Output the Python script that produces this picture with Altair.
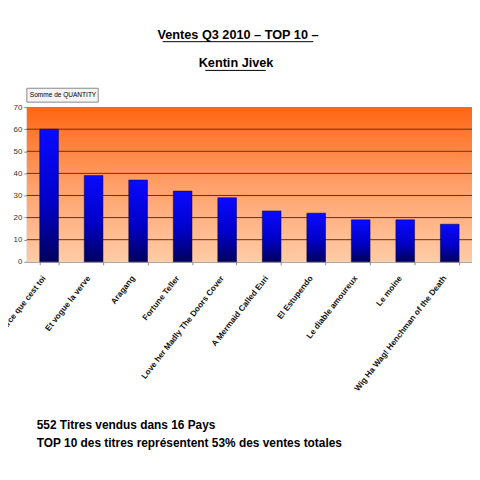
import altair as alt
import pandas as pd

titles = ["Parce que cest toi", "Et vogue la verve", "Aragang", "Fortune Teller",
          "Love her Madly The Doors Cover", "A Mermaid Called Euri", "El Estupendo",
          "Le diable amoureux", "Le moine", "Wig Ha Wag! Henchman of the Death"]
quantities = [60, 39, 37, 32, 29, 23, 22, 19, 19, 17]
y_ticks = [0, 10, 20, 30, 40, 50, 60, 70]
grid_values = [10, 20, 30, 40, 50, 60]

title_1 = "Ventes Q3 2010 \u2013 TOP 10 \u2013"
title_2 = "Kentin Jivek"
note_1 = "552 Titres vendus dans 16 Pays"
note_2 = "TOP 10 des titres repr\u00e9sentent 53% des ventes totales"
legend_label = "Somme de QUANTITY"

df = pd.DataFrame({"title": titles, "q": quantities})
grid_df = pd.DataFrame({"g": grid_values})
one = pd.DataFrame({"k": [0]})

W, H = 449, 156
FONT = "Liberation Sans"

bg_grad = alt.LinearGradient(
    gradient="linear", x1=0, y1=0, x2=0, y2=1,
    stops=[alt.GradientStop(color="#FF6614", offset=0),
           alt.GradientStop(color="#FF9F6A", offset=0.5),
           alt.GradientStop(color="#FFCCA6", offset=1)])

bar_grad = alt.LinearGradient(
    gradient="linear", x1=0, y1=0, x2=0, y2=1,
    stops=[alt.GradientStop(color="#0A0AFF", offset=0),
           alt.GradientStop(color="#0000C8", offset=0.55),
           alt.GradientStop(color="#00005E", offset=1)])

yscale = alt.Scale(domain=[0, 70], nice=False)
yaxis = alt.Axis(values=y_ticks, labelFont=FONT, labelFontSize=8, labelColor="#333",
                 tickSize=3, tickColor="#888", domainColor="#888",
                 grid=False, labelPadding=2, title=None)

background = alt.Chart(one).mark_rect(fill=bg_grad).encode(
    x=alt.value(0), x2=alt.value(W), y=alt.value(0), y2=alt.value(H))

grid = alt.Chart(grid_df).mark_rule(color="#6B3010", strokeWidth=1).encode(
    y=alt.Y("g:Q", scale=yscale, axis=yaxis, title=None), x=alt.value(0), x2=alt.value(W))

bars = alt.Chart(df).mark_bar(color=bar_grad, stroke="#00003A", strokeWidth=0.5).encode(
    x=alt.X("title:N", sort=titles, title=None,
            scale=alt.Scale(paddingInner=0.58, paddingOuter=0.29),
            axis=alt.Axis(labelAngle=-52, labelAlign="right", labelBaseline="middle",
                          labelFont=FONT, labelFontSize=8.3, labelFontWeight="bold",
                          labelColor="#111", labelPadding=12, labelOffset=-5,
                          tickBand="extent", tickSize=3, tickColor="#888",
                          domainColor="#888", labelLimit=300)),
    y=alt.Y("q:Q", title=None, scale=yscale, axis=yaxis),
)

def txt(s, x, y, size, bold=True, align="center"):
    return alt.Chart(one).mark_text(
        text=s, font=FONT, fontSize=size, fontWeight="bold" if bold else "normal",
        align=align, baseline="middle", color="#000").encode(
        x=alt.value(x), y=alt.value(y))

def rule(x1, x2, y):
    return alt.Chart(one).mark_rule(color="#000", strokeWidth=1).encode(
        x=alt.value(x1), x2=alt.value(x2), y=alt.value(y))

legend_box = alt.Chart(one).mark_rect(fill="#F4F4F4", stroke="#8A8A8A", strokeWidth=1).encode(
    x=alt.value(0), x2=alt.value(72), y=alt.value(-19), y2=alt.value(-5))
legend_txt = alt.Chart(one).mark_text(
    text=legend_label, font=FONT, fontSize=6.6, align="left", baseline="middle",
    color="#000").encode(x=alt.value(3), y=alt.value(-12))

chart = alt.layer(
    background, grid, bars,
    legend_box, legend_txt,
    txt(title_1, 213, -73, 12.8), rule(137, 289, -66),
    txt(title_2, 211, -44, 12.8), rule(180, 241, -37),
    txt(note_1, 10, 321, 12, align="left"),
    txt(note_2, 10, 339, 12, align="left"),
).properties(
    width=W, height=H,
    autosize=alt.AutoSizeParams(type="none"),
    padding={"left": 19, "top": 98, "right": 0, "bottom": 200},
).configure_view(stroke=None)

chart.save("out.html", embed_options={"renderer": "svg", "actions": False})
